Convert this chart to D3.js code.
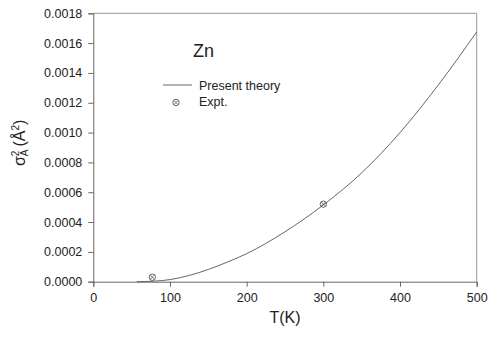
<!DOCTYPE html>
<html>
<head>
<meta charset="utf-8">
<script src="https://cdn.jsdelivr.net/npm/d3@7"></script>
<style>
  html, body { margin: 0; padding: 0; background: #fff; }
  svg { display: block; font-family: "Liberation Sans", Arial, sans-serif; }
</style>
</head>
<body>
<svg id="chart" width="488" height="338"></svg>
<script>
// Mean-square relative displacement of Zn versus temperature
const theoryT = [57, 80, 100, 125, 150, 175, 200, 250, 300, 350, 400, 450, 500];
const theorySigma = [0, 0.000004, 0.000014, 0.000042, 0.000082, 0.000132, 0.000188, 0.000335, 0.000515, 0.00073, 0.001, 0.00132, 0.001675];
const exptT = [77, 300];
const exptSigma = [0.00003, 0.00052];
const xTicks = [0, 100, 200, 300, 400, 500];
const yTicks = [0, 0.0002, 0.0004, 0.0006, 0.0008, 0.0010, 0.0012, 0.0014, 0.0016, 0.0018];

const svg = d3.select("#chart");
const plotLeft = 93.3, plotRight = 476.7, plotTop = 13.3, plotBottom = 281.7;

const x = d3.scaleLinear().domain([0, 500]).range([plotLeft, plotRight]);
const y = d3.scaleLinear().domain([0, 0.0018]).range([plotBottom, plotTop]);

const textColor = "#222";
const axisColor = "#666";

// frame: top and right edges
svg.append("path")
  .attr("d", `M${plotLeft},${plotTop}H${plotRight}V${plotBottom}`)
  .attr("fill", "none").attr("stroke", "#999").attr("stroke-width", 1);

const xAxis = svg.append("g")
  .attr("transform", `translate(0,${plotBottom})`)
  .call(d3.axisBottom(x).tickValues(xTicks).tickSize(5).tickPadding(6).tickFormat(d3.format("d")));
const yAxis = svg.append("g")
  .attr("transform", `translate(${plotLeft},0)`)
  .call(d3.axisLeft(y).tickValues(yTicks).tickSize(5).tickPadding(6).tickFormat(d3.format(".4f")));

[xAxis, yAxis].forEach(g => {
  g.select(".domain").attr("stroke", axisColor);
  g.selectAll(".tick line").attr("stroke", axisColor);
  g.selectAll(".tick text").attr("fill", textColor)
    .style("font-family", "Liberation Sans, Arial, sans-serif").style("font-size", "12.5px");
});

// theory curve
const theory = theoryT.map((t, i) => [t, theorySigma[i]]);
svg.append("path")
  .datum(theory)
  .attr("d", d3.line().x(d => x(d[0])).y(d => y(d[1])).curve(d3.curveMonotoneX))
  .attr("fill", "none").attr("stroke", "#666").attr("stroke-width", 1);

// experimental points: circle with a cross
function crossCircle(g, cx, cy) {
  g.append("circle").attr("cx", cx).attr("cy", cy).attr("r", 3.2)
    .attr("fill", "none").attr("stroke", "#555").attr("stroke-width", 0.9);
  const r = 2.1;
  g.append("path")
    .attr("d", `M${cx - r},${cy - r}L${cx + r},${cy + r}M${cx - r},${cy + r}L${cx + r},${cy - r}`)
    .attr("stroke", "#555").attr("stroke-width", 0.8);
}
const ptsG = svg.append("g");
exptT.forEach((t, i) => crossCircle(ptsG, x(t), y(exptSigma[i])));

// element label
svg.append("text").attr("x", 193).attr("y", 57)
  .attr("fill", textColor).style("font-size", "18px").text("Zn");

// legend
svg.append("line").attr("x1", 163).attr("x2", 192).attr("y1", 85).attr("y2", 85)
  .attr("stroke", "#666").attr("stroke-width", 1);
svg.append("text").attr("x", 199).attr("y", 90)
  .attr("fill", textColor).style("font-size", "12.5px").text("Present theory");
crossCircle(svg.append("g"), 176, 102.5);
svg.append("text").attr("x", 199).attr("y", 106)
  .attr("fill", textColor).style("font-size", "12.5px").text("Expt.");

// x-axis title
svg.append("text").attr("x", 285).attr("y", 323).attr("text-anchor", "middle")
  .attr("fill", textColor).style("font-size", "16px").text("T(K)");

// y-axis title: sigma with stacked superscript 2 and subscript A
const yt = svg.append("text")
  .attr("transform", "translate(24.5,166) rotate(-90)")
  .attr("fill", textColor).style("font-size", "16px");
yt.append("tspan").text("σ");
yt.append("tspan").attr("dy", -6).style("font-size", "10px").text("2");
yt.append("tspan").attr("dx", -5.6).attr("dy", 9).style("font-size", "10px").text("A");
yt.append("tspan").attr("dx", 3).attr("dy", -3).text("(Å");
yt.append("tspan").attr("dy", -6).style("font-size", "10px").text("2");
yt.append("tspan").attr("dy", 6).text(")");
</script>
</body>
</html>
